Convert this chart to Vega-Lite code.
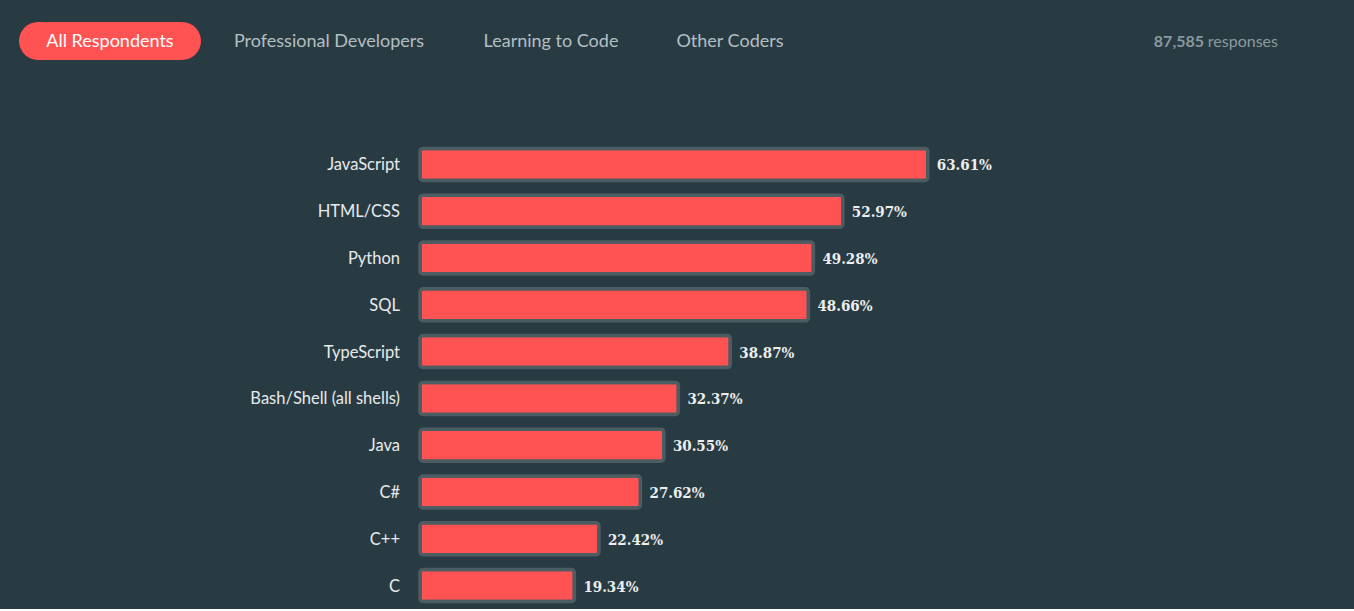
{
  "$schema": "https://vega.github.io/schema/vega-lite/v6.json",
  "background": "#283b42",
  "padding": {"left": 19, "top": 22, "right": 0, "bottom": 0},
  "bounds": "flush",
  "spacing": 119,
  "config": {
    "view": {"stroke": null},
    "font": "Lato",
    "text": {"font": "Lato"}
  },
  "datasets": {
    "tabs": [
      {"tab": "All Respondents"},
      {"tab": "Professional Developers"},
      {"tab": "Learning to Code"},
      {"tab": "Other Coders"}
    ],
    "responses": [
      {"count": "87,585", "word": "responses"}
    ],
    "langs": [
      {"lang": "JavaScript", "share": 0.6361},
      {"lang": "HTML/CSS", "share": 0.5297},
      {"lang": "Python", "share": 0.4928},
      {"lang": "SQL", "share": 0.4866},
      {"lang": "TypeScript", "share": 0.3887},
      {"lang": "Bash/Shell (all shells)", "share": 0.3237},
      {"lang": "Java", "share": 0.3055},
      {"lang": "C#", "share": 0.2762},
      {"lang": "C++", "share": 0.2242},
      {"lang": "C", "share": 0.1934}
    ]
  },
  "vconcat": [
    {
      "bounds": "flush",
      "spacing": 0,
      "hconcat": [
        {
          "width": 182,
          "height": 38,
          "data": {"name": "tabs"},
          "transform": [{"filter": "datum.tab === 'All Respondents'"}],
          "encoding": {
            "x": {"field": "tab", "type": "nominal", "axis": null, "scale": {"type": "band", "paddingInner": 0, "paddingOuter": 0}},
            "y": {"field": "tab", "type": "nominal", "axis": null, "scale": {"type": "band", "paddingInner": 0, "paddingOuter": 0}}
          },
          "layer": [
            {"mark": {"type": "rect", "cornerRadius": 19, "color": "#ff5252"}},
            {"mark": {"type": "text", "font": "Lato", "fontSize": 18, "color": "#ffffff", "baseline": "middle", "align": "center", "dy": 1}, "encoding": {"text": {"field": "tab"}}}
          ]
        },
        {
          "width": 256,
          "height": 38,
          "data": {"name": "tabs"},
          "transform": [{"filter": "datum.tab === 'Professional Developers'"}],
          "mark": {"type": "text", "font": "Lato", "fontSize": 18, "color": "#b4bfc4", "baseline": "middle", "align": "center", "dy": 1},
          "encoding": {
            "x": {"field": "tab", "type": "nominal", "axis": null, "scale": {"type": "band", "paddingInner": 0, "paddingOuter": 0}},
            "y": {"field": "tab", "type": "nominal", "axis": null, "scale": {"type": "band", "paddingInner": 0, "paddingOuter": 0}},
            "text": {"field": "tab"}
          }
        },
        {
          "width": 188,
          "height": 38,
          "data": {"name": "tabs"},
          "transform": [{"filter": "datum.tab === 'Learning to Code'"}],
          "mark": {"type": "text", "font": "Lato", "fontSize": 18, "color": "#b4bfc4", "baseline": "middle", "align": "center", "dy": 1},
          "encoding": {
            "x": {"field": "tab", "type": "nominal", "axis": null, "scale": {"type": "band", "paddingInner": 0, "paddingOuter": 0}},
            "y": {"field": "tab", "type": "nominal", "axis": null, "scale": {"type": "band", "paddingInner": 0, "paddingOuter": 0}},
            "text": {"field": "tab"}
          }
        },
        {
          "width": 170,
          "height": 38,
          "data": {"name": "tabs"},
          "transform": [{"filter": "datum.tab === 'Other Coders'"}],
          "mark": {"type": "text", "font": "Lato", "fontSize": 18, "color": "#b4bfc4", "baseline": "middle", "align": "center", "dy": 1},
          "encoding": {
            "x": {"field": "tab", "type": "nominal", "axis": null, "scale": {"type": "band", "paddingInner": 0, "paddingOuter": 0}},
            "y": {"field": "tab", "type": "nominal", "axis": null, "scale": {"type": "band", "paddingInner": 0, "paddingOuter": 0}},
            "text": {"field": "tab"}
          }
        },
        {
          "width": 463,
          "height": 38,
          "data": {"name": "responses"},
          "encoding": {
            "y": {"field": "word", "type": "nominal", "axis": null, "scale": {"type": "band", "paddingInner": 0, "paddingOuter": 0}},
            "x": {"value": "width"}
          },
          "layer": [
            {"mark": {"type": "text", "font": "Lato", "fontSize": 16, "fontWeight": "bold", "color": "#8b999f", "baseline": "middle", "align": "right", "dx": -74, "dy": 1}, "encoding": {"text": {"field": "count"}}},
            {"mark": {"type": "text", "font": "Lato", "fontSize": 16, "color": "#8b999f", "baseline": "middle", "align": "right", "dy": 1}, "encoding": {"text": {"field": "word"}}}
          ]
        }
      ]
    },
    {
      "bounds": "flush",
      "spacing": 20,
      "hconcat": [
        {
          "width": 381,
          "height": 468,
          "data": {"name": "langs"},
          "mark": {"type": "text", "font": "Lato", "fontSize": 16.5, "color": "#e8eaeb", "baseline": "middle", "align": "right", "dy": 1},
          "encoding": {
            "y": {"field": "lang", "type": "nominal", "sort": null, "axis": null, "scale": {"type": "band", "paddingInner": 0.316, "paddingOuter": 0.158}},
            "x": {"value": "width"},
            "text": {"field": "lang"}
          }
        },
        {
          "width": 934,
          "height": 468,
          "data": {"name": "langs"},
          "encoding": {
            "y": {"field": "lang", "type": "nominal", "sort": null, "axis": null, "scale": {"paddingInner": 0.316, "paddingOuter": 0.158}},
            "x": {"field": "share", "type": "quantitative", "axis": null, "scale": {"domain": [0, 1.17], "nice": false}}
          },
          "layer": [
            {"mark": {"type": "bar", "color": "#ff5252", "stroke": "#4c5c63", "strokeWidth": 3.5, "cornerRadius": 3}},
            {"mark": {"type": "text", "font": "DejaVu Serif Condensed", "fontSize": 15, "fontWeight": "bold", "color": "#eceeef", "baseline": "middle", "align": "left", "dx": 9, "dy": 1}, "encoding": {"text": {"field": "share", "type": "quantitative", "format": ".2%"}}}
          ]
        }
      ]
    }
  ]
}
